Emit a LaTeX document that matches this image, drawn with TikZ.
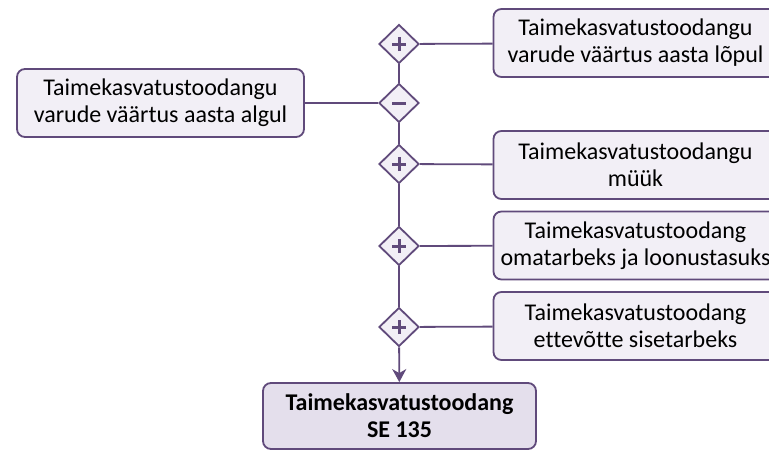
\documentclass[tikz,border=0pt]{standalone}
\usepackage{fontspec}
\setmainfont{Carlito}[Ligatures=NoCommon]
\usepackage{tikz}
\usetikzlibrary{arrows.meta, shapes.geometric, positioning}

\definecolor{lilla}{HTML}{604A7B}
\definecolor{heleLilla}{HTML}{F2EFF6}
\definecolor{tumeLilla}{HTML}{E4DFEC}

\begin{document}
\begin{tikzpicture}[x=1pt, y=-1pt,
    font=\fontsize{24}{27}\selectfont,
    kast/.style={draw=lilla, fill=heleLilla, line width=1.8pt, rounded corners=8pt,
      align=center, inner sep=0pt, minimum height=68pt},
    tulem/.style={kast, fill=tumeLilla, font=\fontsize{24}{27}\selectfont\bfseries},
    romb/.style={diamond, draw=lilla, fill=heleLilla, line width=1.8pt, inner sep=0pt,
      minimum width=40pt, minimum height=39pt},
    joon/.style={draw=lilla, line width=1.8pt},
    mark joon/.style={draw=lilla, line width=3pt}]
  \useasboundingbox (0,0) rectangle (769,450);

  % Sign nodes
  \node[romb] (p1) at (399,44) {};
  \node[romb] (m) at (399,103) {};
  \node[romb] (p2) at (399,164) {};
  \node[romb] (p3) at (399,246) {};
  \node[romb] (p4) at (399,327) {};

  % Boxes
  \node[kast, minimum width=284pt] (lopp) at (635.5,43) {Taimekasvatustoodangu\\varude väärtus aasta lõpul};
  \node[kast, minimum width=287pt] (algus) at (160.5,103) {Taimekasvatustoodangu\\varude väärtus aasta algul};
  \node[kast, minimum width=284pt] (myyk) at (635.5,165) {Taimekasvatustoodangu\\müük};
  \node[kast, minimum width=284pt] (oma) at (635.5,245.5) {Taimekasvatustoodang\\omatarbeks ja loonustasuks};
  \node[kast, minimum width=284pt] (sise) at (635.5,326) {Taimekasvatustoodang\\ettevõtte sisetarbeks};
  \node[tulem, minimum width=273pt, minimum height=66pt] (se) at (399.5,416) {Taimekasvatustoodang\\SE 135};

  % Edges
  \draw[joon] (p1) -- (lopp);
  \draw[joon] (algus) -- (m);
  \draw[joon] (p2) -- (myyk);
  \draw[joon] (p3) -- (oma);
  \draw[joon] (p4) -- (sise);
  \draw[joon] (p1) -- (m);
  \draw[joon] (m) -- (p2);
  \draw[joon] (p2) -- (p3);
  \draw[joon] (p3) -- (p4);
  \draw[joon, -{Stealth[length=13pt, width=14pt, inset=4pt]}] (p4) -- (se);

  % Plus and minus
  \foreach \n in {p1, p2, p3, p4} {
    \draw[mark joon] ([xshift=-7pt]\n.center) -- ([xshift=7pt]\n.center);
    \draw[mark joon] ([yshift=-7pt]\n.center) -- ([yshift=7pt]\n.center);
  }
  \draw[mark joon] ([xshift=-7pt]m.center) -- ([xshift=7pt]m.center);
\end{tikzpicture}
\end{document}
